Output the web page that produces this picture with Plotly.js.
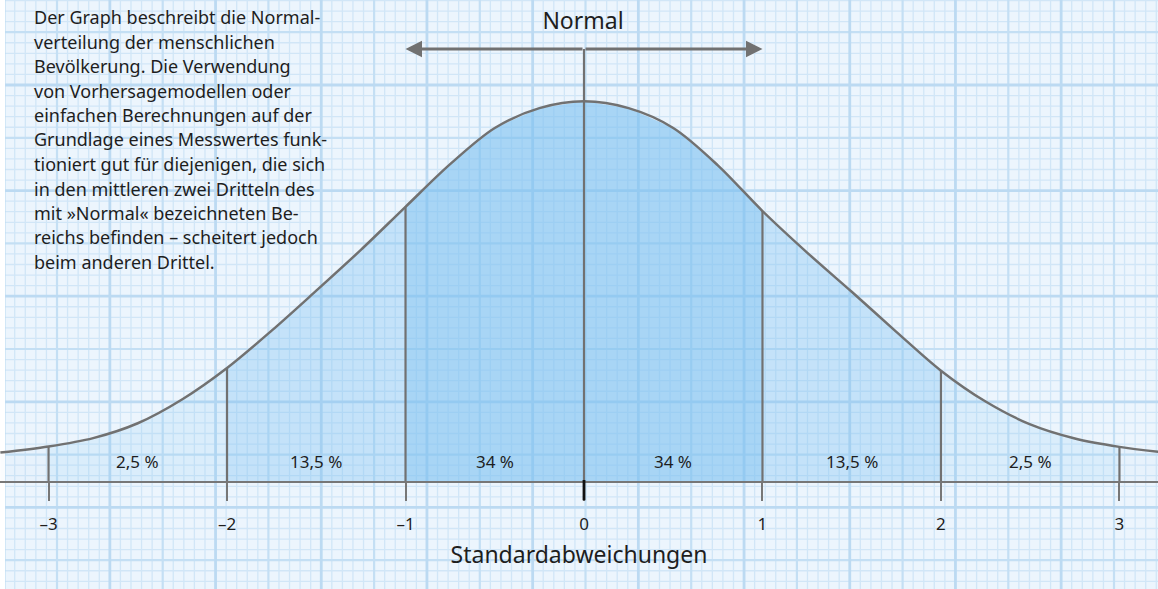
<!DOCTYPE html>
<html><head><meta charset="utf-8">
<script src="https://cdn.plot.ly/plotly-3.0.1.min.js"></script>
<style>html,body{margin:0;padding:0;background:#fff}#chart{width:1158px;height:589px}</style>
</head><body><div id="chart"></div>
<script>
// ---- data (x in standard deviations, y relative to the peak height) ----
const curveX = [-3.27, -3.0, -2.75, -2.5, -2.25, -2.0, -1.75, -1.5, -1.25, -1.0, -0.75, -0.5, -0.25, 0,
                0.25, 0.5, 0.75, 1.0, 1.25, 1.5, 1.75, 2.0, 2.25, 2.5, 2.75, 3.0, 3.22];
const curveY = [0.078, 0.094, 0.116, 0.155, 0.218, 0.300, 0.398, 0.503, 0.610, 0.723, 0.835, 0.930, 0.982, 1.000,
                0.982, 0.930, 0.832, 0.712, 0.603, 0.500, 0.395, 0.293, 0.212, 0.152, 0.115, 0.093, 0.080];
const boundaries = [-3, -2, -1, 0, 1, 2, 3];
const tickLabels = ['–3', '–2', '–1', '0', '1', '2', '3'];
const regionLabels = ['2,5 %', '13,5 %', '34 %', '34 %', '13,5 %', '2,5 %'];
const noteLines = [
  'Der Graph beschreibt die Normal-',
  'verteilung der menschlichen',
  'Bevölkerung. Die Verwendung',
  'von Vorhersagemodellen oder',
  'einfachen Berechnungen auf der',
  'Grundlage eines Messwertes funk-',
  'tioniert gut für diejenigen, die sich',
  'in den mittleren zwei Dritteln des',
  'mit »Normal« bezeichneten Be-',
  'reichs befinden – scheitert jedoch',
  'beim anderen Drittel.'
];
const titleText = 'Normal';
const axisTitleText = 'Standardabweichungen';

// ---- layout constants ----
const W = 1158, H = 589;
const BASE_PX = 482.3, PEAK_PX = 101.3;
const UNIT = BASE_PX - PEAK_PX;
const X_RANGE = [-3.272, 3.216];
const Y_RANGE = [-(H - BASE_PX) / UNIT, BASE_PX / UNIT];
const ARROW_Y = (BASE_PX - 49) / UNIT;
const LABEL_Y = (BASE_PX - 461) / UNIT;
const FONT = '"Noto Sans", "Open Sans", sans-serif';
const TXT = '#1e1e1e';
const GREY = '#717171';

function hAt(b) { return curveY[curveX.indexOf(b)]; }

// ---- filled regions ----
const edges = [curveX[0], ...boundaries, curveX[curveX.length - 1]];
const alphas = [0.04, 0.145, 0.34, 0.585, 0.585, 0.34, 0.145, 0.04];
const traces = [];
for (let i = 0; i < edges.length - 1; i++) {
  const a = edges[i], b = edges[i + 1];
  const xs = [a], ys = [0];
  for (let j = 0; j < curveX.length; j++) {
    if (curveX[j] >= a && curveX[j] <= b) { xs.push(curveX[j]); ys.push(curveY[j]); }
  }
  xs.push(b); ys.push(0);
  traces.push({type: 'scatter', mode: 'lines', x: xs, y: ys, fill: 'toself',
    fillcolor: 'rgba(120,190,240,' + alphas[i] + ')', line: {width: 0},
    hoverinfo: 'skip', showlegend: false});
}
// boundary lines
const bx = [], by = [];
boundaries.forEach(b => { bx.push(b, b, null); by.push(0, b === 0 ? ARROW_Y : hAt(b), null); });
traces.push({type: 'scatter', mode: 'lines', x: bx, y: by, line: {color: GREY, width: 2.2},
  hoverinfo: 'skip', showlegend: false});
// curve
traces.push({type: 'scatter', mode: 'lines', x: curveX, y: curveY,
  line: {color: GREY, width: 2.5, shape: 'spline', smoothing: 0.9},
  hoverinfo: 'skip', showlegend: false});

// ---- graph-paper grid ----
function fx(px) { return px / W; }
function fy(py) { return 1 - py / H; }
let minorP = '', majorP = '', heavyP = '';
for (let j = 0; ; j++) {
  const x = 4.15 + 10.57 * j; if (x > W) break;
  const seg = 'M' + fx(x) + ',' + fy(0) + 'L' + fx(x) + ',' + fy(H) + ' ';
  if (j % 10 === 0) heavyP += seg; else if (j % 5 === 0) majorP += seg; else minorP += seg;
}
for (let j = 0; ; j++) {
  const y = 0.52 + 10.56 * j; if (y > H) break;
  const seg = 'M' + fx(5) + ',' + fy(y) + 'L' + fx(W) + ',' + fy(y) + ' ';
  const k = ((j - 8) % 10 + 10) % 10;
  if (k === 0) heavyP += seg; else if (k === 5) majorP += seg; else minorP += seg;
}
const shapes = [
  {type: 'path', xref: 'paper', yref: 'paper', path: minorP, line: {color: '#d1e6f7', width: 1.3}, layer: 'below'},
  {type: 'path', xref: 'paper', yref: 'paper', path: majorP, line: {color: '#c4dff4', width: 2.2}, layer: 'below'},
  {type: 'path', xref: 'paper', yref: 'paper', path: heavyP, line: {color: '#bcdaf2', width: 2.8}, layer: 'below'},
  {type: 'rect', xref: 'paper', yref: 'paper', x0: 0, x1: fx(5), y0: 0, y1: 1, fillcolor: '#ffffff', line: {width: 0}, layer: 'below'},
  {type: 'line', xref: 'x', yref: 'y', x0: 0, x1: 0, y0: 0.006, y1: -18 / UNIT, line: {color: '#111111', width: 2.8}, layer: 'above'}
];

// ---- annotations ----
const annotations = [];
regionLabels.forEach((t, i) => {
  annotations.push({x: (boundaries[i] + boundaries[i + 1]) / 2, y: LABEL_Y, xref: 'x', yref: 'y',
    text: t, showarrow: false, font: {size: 17, color: TXT, family: FONT}, xanchor: 'center', yanchor: 'middle'});
});
[-1, 1].forEach(tip => {
  annotations.push({x: tip, y: ARROW_Y, ax: 0, ay: ARROW_Y, xref: 'x', yref: 'y', axref: 'x', ayref: 'y',
    text: '', showarrow: true, arrowhead: 2, arrowsize: 1.1, arrowwidth: 3, arrowcolor: GREY, standoff: 0, startstandoff: 0});
});
noteLines.forEach((t, i) => {
  annotations.push({x: fx(32), y: fy(17 + 24.5 * i), xref: 'paper', yref: 'paper', text: t, showarrow: false,
    xanchor: 'left', yanchor: 'middle', align: 'left', font: {size: 18, color: TXT, family: FONT}});
});

const layout = {
  width: W, height: H,
  margin: {l: 0, r: 0, t: 0, b: 0, pad: 0},
  paper_bgcolor: '#ffffff', plot_bgcolor: '#ecf5fd',
  font: {family: FONT, color: TXT},
  showlegend: false,
  title: {text: titleText, x: fx(583), xanchor: 'center', y: fy(21), yanchor: 'middle',
    font: {size: 23, color: TXT, family: FONT}},
  xaxis: {range: X_RANGE, tickmode: 'array', tickvals: boundaries, ticktext: tickLabels,
    ticks: 'outside', ticklen: 18, tickwidth: 2, tickcolor: '#777777',
    showline: true, linewidth: 2, linecolor: '#777777', showgrid: false, zeroline: false,
    anchor: 'free', position: (H - BASE_PX) / H, automargin: false,
    tickfont: {size: 17, color: TXT, family: FONT}, ticklabelstandoff: 8,
    title: {text: axisTitleText, font: {size: 23, color: TXT, family: FONT}, standoff: 12},
    fixedrange: true},
  yaxis: {range: Y_RANGE, visible: false, showgrid: false, zeroline: false, fixedrange: true},
  shapes: shapes,
  annotations: annotations
};
Plotly.newPlot('chart', traces, layout, {displayModeBar: false, staticPlot: true});
</script>
</body></html>
